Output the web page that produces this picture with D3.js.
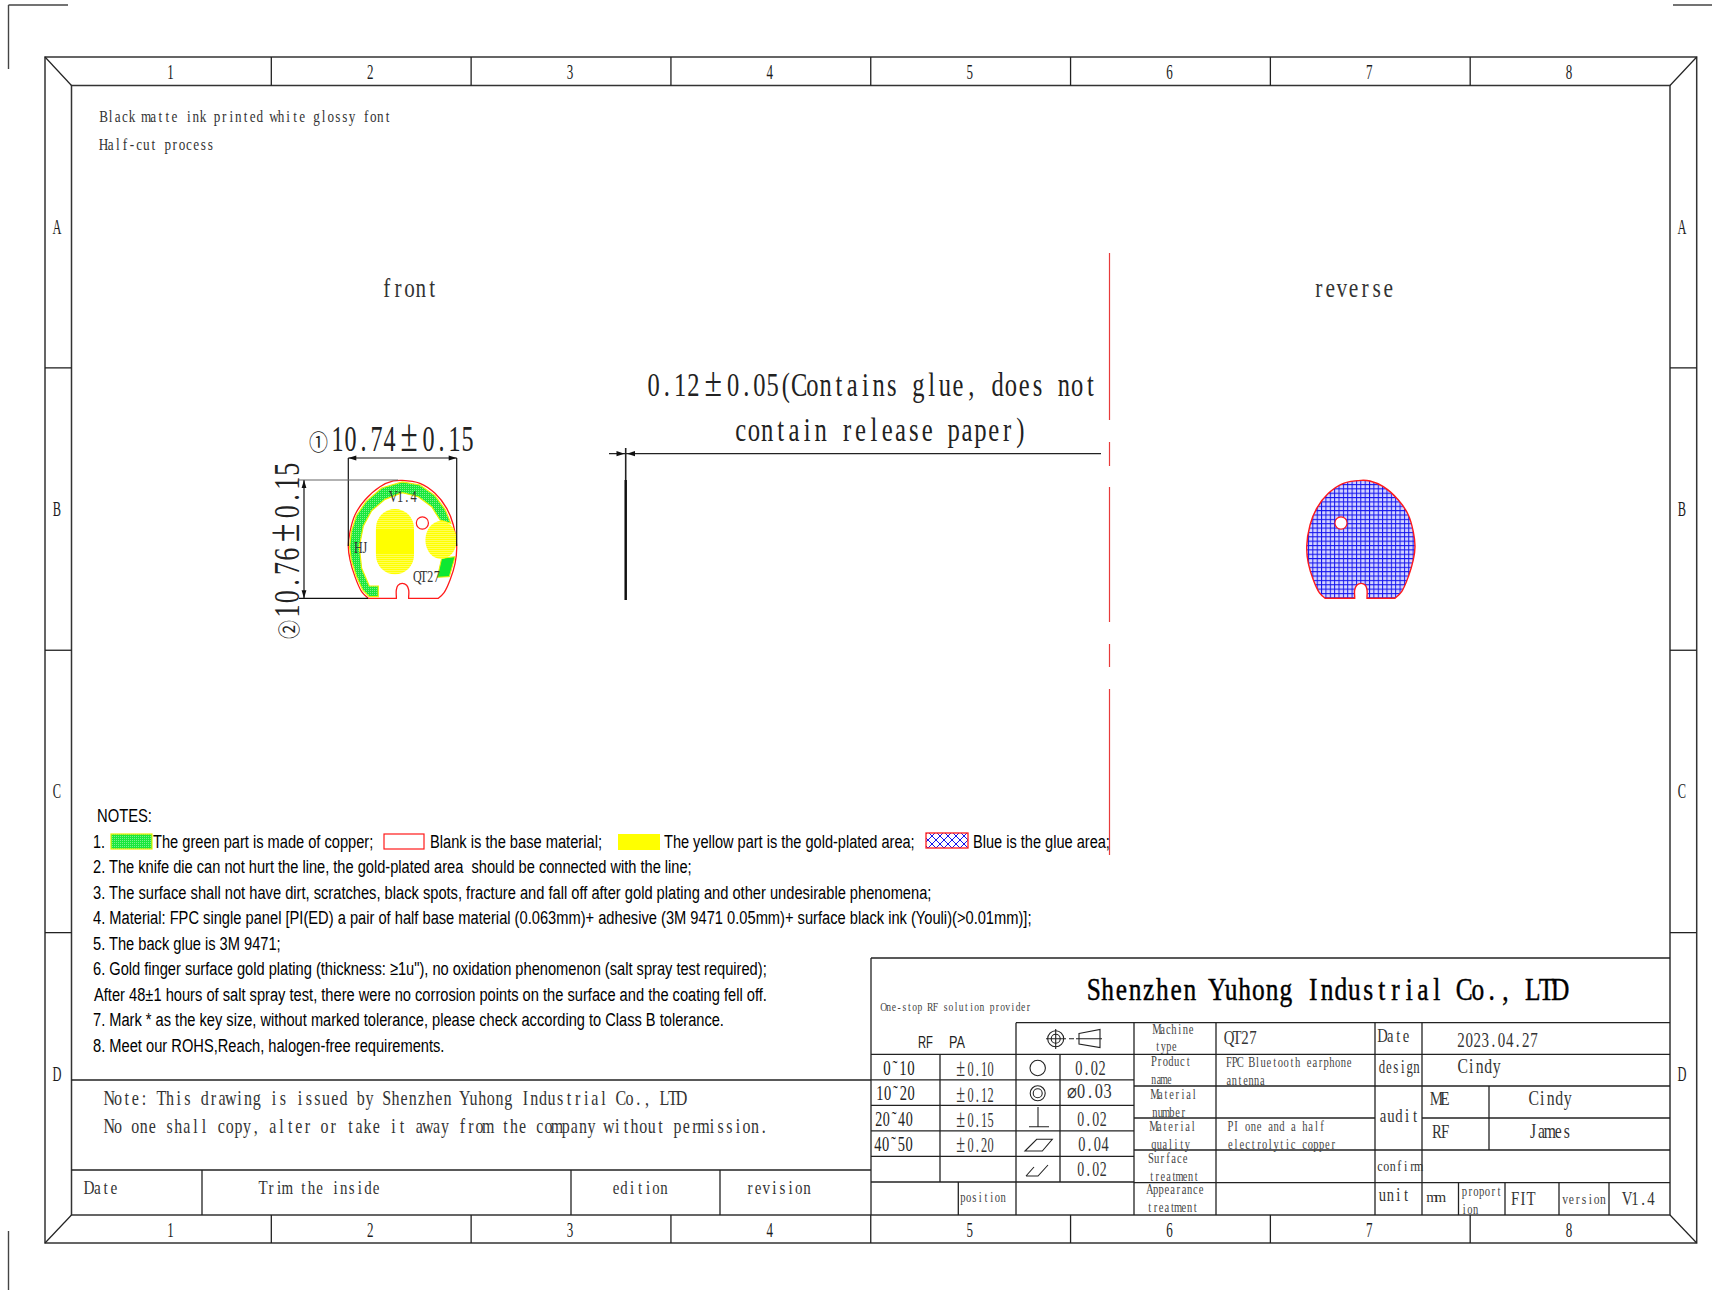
<!DOCTYPE html>
<html>
<head>
<meta charset="utf-8">
<style>
html,body{margin:0;padding:0;background:#fff}
svg{display:block}
</style>
<script src="https://cdnjs.cloudflare.com/ajax/libs/d3/7.8.5/d3.min.js"></script>
</head>
<body>
<svg id="c" width="1712" height="1290" viewBox="0 0 1712 1290"></svg>
<script>
// ---------- data ----------
const zoneColumns = ["1","2","3","4","5","6","7","8"];
const zoneRows = ["A","B","C","D"];
const headerNotes = ["Black matte ink printed white glossy font","Half-cut process"];
const viewNames = ["front","reverse"];
const widthDim = "10.74±0.15";
const heightDim = "10.76±0.15";
const thicknessLines = ["0.12±0.05(Contains glue, does not","contain release paper)"];
const notesTitle = "NOTES:";
const legendLabels = ["The green part is made of copper;","Blank is the base material;","The yellow part is the gold-plated area;","Blue is the glue area;"];
const noteLines = [
 "2. The knife die can not hurt the line, the gold-plated area  should be connected with the line;",
 "3. The surface shall not have dirt, scratches, black spots, fracture and fall off after gold plating and other undesirable phenomena;",
 "4. Material: FPC single panel [PI(ED) a pair of half base material (0.063mm)+ adhesive (3M 9471 0.05mm)+ surface black ink (Youli)(>0.01mm)];",
 "5. The back glue is 3M 9471;",
 "6. Gold finger surface gold plating (thickness: ≥1u\"), no oxidation phenomenon (salt spray test required);",
 "After 48±1 hours of salt spray test, there were no corrosion points on the surface and the coating fell off.",
 "7. Mark * as the key size, without marked tolerance, please check according to Class B tolerance.",
 "8. Meet our ROHS,Reach, halogen-free requirements."
];
const noteRightEdges = [692.5,931.7,1032,281,768,767,725,444.6];
const legalLines = ["Note: This drawing is issued by Shenzhen Yuhong Industrial Co., LTD","No one shall copy, alter or take it away from the company without permission."];
const revisionHeaders = ["Date","Trim the inside","edition","revision"];
const toleranceRanges = ["0˜10","10˜20","20˜40","40˜50"];
const toleranceValues = ["±0.10","±0.12","±0.15","±0.20"];
const geometricValues = ["0.02","⌀0.03","0.02","0.04","0.02"];
const companyName = "Shenzhen Yuhong Industrial Co., LTD";
const slogan = "One-stop RF solution provider";

// part outline, millimetres (10.74 x 10.76)
const arcX = [1.98,1.32,0.66,0.17,0,0.17,0.66,1.65,3.14,4.46,5.35,7.10,8.59,9.75,10.41,10.74,10.58,10.08,9.49,8.92];
const arcY = [0,0.61,1.97,3.49,4.70,6.06,7.58,8.94,10.15,10.67,10.73,10.46,9.55,8.18,6.67,4.70,3.18,1.67,0.52,0];
const notchX = [5.98,5.98,5.78,5.35,4.92,4.76,4.76];
const notchY = [0.15,0.76,1.18,1.36,1.18,0.76,0.15];
const copperX = [2.97,2.97,2.08,1.32,1.09,1.49,2.31,3.64,5.35,6.94,8.26,9.09,10.15,9.58,8.59,7.10,5.35,3.31,1.75,0.79,0.30,0.13,0.30,0.79,1.42,2.08];
const copperY = [0.15,1.12,1.12,2.73,4.70,6.58,7.97,9.00,9.61,9.24,8.33,7.12,6.82,8.09,9.34,10.31,10.58,10.03,8.79,7.49,6.06,4.70,3.49,2.03,0.76,0.15];
const copperTabX = [8.82,9.25,10.58,10.01];
const copperTabY = [1.91,3.64,3.79,1.97];

// ---------- helpers ----------
const svg = d3.select("#c");
const INK = "#1c1c1c", SERIF = "'Liberation Serif',serif", SANS = "'Liberation Sans',sans-serif", CJK="'Noto Sans CJK SC',sans-serif";
const defs = svg.append("defs");

function line(g,x1,y1,x2,y2,w=1.3,c="#222"){
  return g.append("line").attr("x1",x1).attr("y1",y1).attr("x2",x2).attr("y2",y2)
    .attr("stroke",c).attr("stroke-width",w);
}
// CAD text: serif strings sit on a fixed pitch (half-width cells, ± takes two),
// narrowed so each glyph fits its cell; other strings are scaled to their width.
function fit(g,str,x0,x1,base,size,fam=SERIF,col=INK,weight=400){
  if(fam!==SERIF){
    const t = g.append("text").attr("font-family",fam).attr("font-size",size).attr("font-weight",weight)
      .attr("fill",col).style("white-space","pre").text(str);
    const natural = t.node().getComputedTextLength();
    t.attr("transform",`translate(${x0},${base}) scale(${((x1-x0)/natural).toFixed(4)},1)`);
    return t;
  }
  const chars = Array.from(str);
  const cells = chars.map(c=>c==="±"?2:1);
  const pitch = (x1-x0)/d3.sum(cells);
  const sx = Math.min(1,pitch/(0.54*size));
  let at = 0;
  const xs = chars.map((c,i)=>{ const m=(at+cells[i]/2)*pitch; at+=cells[i]; return (m/sx).toFixed(2); });
  const t = g.append("text").attr("transform",`translate(${x0},${base}) scale(${sx.toFixed(4)},1)`)
    .attr("x",xs.join(" ")).attr("y",0).attr("text-anchor","middle")
    .attr("font-family",fam).attr("font-size",size).attr("font-weight",weight)
    .attr("fill",col).style("white-space","pre");
  str.split(/(±)/).filter(s=>s.length).forEach(s=>{
    const sp = t.append("tspan").text(s);
    if(s==="±") sp.attr("font-size",size*1.3);
  });
  return t;
}
function centered(g,str,cx,base,size,sx=0.62){
  g.append("text").attr("transform",`translate(${cx},${base}) scale(${sx},1)`)
   .attr("text-anchor","middle").attr("font-family",SERIF).attr("font-size",size).attr("fill",INK).text(str);
}

// ---------- frame ----------
const frame = svg.append("g");
const outer = {l:45,r:1696.7,t:57,b:1243}, inner = {l:71.5,r:1670,t:85.5,b:1215};
[[outer,1.5],[inner,1.5]].forEach(([b,w])=>{
  frame.append("rect").attr("x",b.l).attr("y",b.t).attr("width",b.r-b.l).attr("height",b.b-b.t)
    .attr("fill","none").attr("stroke","#333").attr("stroke-width",w);
});
[[outer.l,outer.t,inner.l,inner.t],[outer.r,outer.t,inner.r,inner.t],[outer.l,outer.b,inner.l,inner.b],[outer.r,outer.b,inner.r,inner.b]]
 .forEach(p=>line(frame,...p,1.2));
const colBand = d3.scaleBand().domain(zoneColumns).range([inner.l,inner.r]);
const rowBand = d3.scaleBand().domain(zoneRows).range([inner.t,inner.b]);
zoneColumns.forEach((c,i)=>{
  const x = colBand(c), mid = x+colBand.bandwidth()/2;
  if(i>0){ line(frame,x,outer.t,x,inner.t); line(frame,x,inner.b,x,outer.b); }
  centered(frame,c,mid-1,79,21);
  centered(frame,c,mid-1,1237,21);
});
zoneRows.forEach((r,i)=>{
  const y = rowBand(r), mid = y+rowBand.bandwidth()/2;
  if(i>0){ line(frame,outer.l,y,inner.l,y); line(frame,inner.r,y,outer.r,y); }
  centered(frame,r,57,mid+7,20);
  centered(frame,r,1682,mid+7,20);
});
// crop marks
[[8.5,5,68,5],[8.5,5,8.5,69],[1673,5,1712,5],[8.5,1231,8.5,1290]].forEach(p=>line(frame,...p,1.4,"#444"));

// ---------- header texts ----------
const head = svg.append("g");
fit(head,headerNotes[0],100,391,122,17,SERIF,"#333");
fit(head,headerNotes[1],100,214,150,17,SERIF,"#333");
fit(head,viewNames[0],381,438,297,27,SERIF,"#333");
fit(head,viewNames[1],1313,1394,297,27,SERIF,"#333");

// ---------- part views ----------
const yFront = d3.scaleLinear().domain([0,10.76]).range([598.3,480]);
const xFront = d3.scaleLinear().domain([0,10.74]).range([348.3,456.7]);
const xBack  = d3.scaleLinear().domain([0,10.74]).range([1415,1306.7]);
const smooth = d3.line().curve(d3.curveCatmullRom.alpha(0.5));
const straight = d3.line();
const poly = (xs,ys,sx,sy)=>xs.map((v,i)=>[sx(v),sy(ys[i])]);
function outlinePath(sx){
  const notch = poly(notchX,notchY,sx,yFront);
  const last = notch[notch.length-1], first = notch[0];
  return smooth(poly(arcX,arcY,sx,yFront))
    + "L" + [first[0],yFront(0)].join(",")
    + smooth(notch).replace("M","L")
    + "L" + [last[0],yFront(0)].join(",") + "Z";
}

// dimension arrows
function arrow(g,x,y,dir,len=8,half=2.4){
  const v = {l:[[x,y],[x+len,y-half],[x+len,y+half]], r:[[x,y],[x-len,y-half],[x-len,y+half]],
             u:[[x,y],[x-half,y+len],[x+half,y+len]], d:[[x,y],[x-half,y-len],[x+half,y-len]]}[dir];
  g.append("path").attr("d",straight(v)+"Z").attr("fill","#111");
}

// front
const front = svg.append("g");
const hatchY = defs.append("pattern").attr("id","ylw").attr("patternUnits","userSpaceOnUse").attr("width",2).attr("height",2);
hatchY.append("rect").attr("width",2).attr("height",2).attr("fill","#ffff00");
hatchY.append("rect").attr("width",2).attr("height",1).attr("fill","#ffff55");
const hatchG = defs.append("pattern").attr("id","grn").attr("patternUnits","userSpaceOnUse").attr("width",2).attr("height",2);
hatchG.append("rect").attr("width",2).attr("height",2).attr("fill","#19e83c");
hatchG.append("rect").attr("width",1).attr("height",1).attr("fill","#7cf08c");

front.append("path").attr("d",outlinePath(xFront)).attr("fill","#fff").attr("stroke","#ff1a1a").attr("stroke-width",1.3);
front.append("path").attr("d",straight(poly(copperX,copperY,xFront,yFront))+"Z").attr("fill","url(#grn)").attr("stroke","#eef000").attr("stroke-width",1.2);
front.append("path").attr("d",straight(poly(copperTabX,copperTabY,xFront,yFront))+"Z").attr("fill","#0ee832").attr("stroke","#eef000").attr("stroke-width",1);
// gold pads
const padW = xFront(6.51)-xFront(2.74), padH = yFront(2.18)-yFront(8.12);
front.append("rect").attr("x",xFront(2.74)).attr("y",yFront(8.12)).attr("width",padW).attr("height",padH)
  .attr("rx",padW/2).attr("ry",padW/2).attr("fill","url(#ylw)");
front.append("rect").attr("x",xFront(2.74)).attr("y",yFront(6.21)).attr("width",padW).attr("height",yFront(4.09)-yFront(6.21)).attr("fill","#ffff00");
front.append("ellipse").attr("cx",xFront(9.19)).attr("cy",yFront(5.30)).attr("rx",xFront(1.55)-xFront(0)).attr("ry",yFront(0)-yFront(1.73)).attr("fill","url(#ylw)");
front.append("ellipse").attr("cx",xFront(7.34)).attr("cy",yFront(6.85)).attr("rx",xFront(0.6)-xFront(0)).attr("ry",yFront(0)-yFront(0.56)).attr("fill","#fff").attr("stroke","#ff1a1a").attr("stroke-width",1.2);
fit(front,"V1.4",390,417,502,17,SERIF,"#333");
fit(front,"HJ",355,368,553,17,SERIF,"#333");
fit(front,"QT27",414,440,582,17,SERIF,"#333");

// front dimensions
line(front,xFront(0),458,xFront(10.74),458,1.2,"#111");
line(front,xFront(0),458,xFront(0),546,1.2,"#111");
line(front,xFront(10.74),458,xFront(10.74),546,1.2,"#111");
arrow(front,xFront(0),458,"l"); arrow(front,xFront(10.74),458,"r");
line(front,304,yFront(10.76),304,yFront(0),1.2,"#111");
line(front,299,yFront(10.76),398,yFront(10.76),1.2,"#666");
line(front,299,yFront(0),368,yFront(0),1.2,"#111");
arrow(front,304,yFront(10.76),"u"); arrow(front,304,yFront(0),"d");
fit(front,"①",309,328,450,22,CJK,"#222");
fit(front,widthDim,331,474,451,36,SERIF,"#222");
const rot = front.append("g").attr("transform","translate(299,620) rotate(-90)");
fit(rot,"②",-19,0,-2,22,CJK,"#222");
fit(rot,heightDim,2,158,0,36,SERIF,"#222");

// reverse
const back = svg.append("g");
const grid = defs.append("pattern").attr("id","glue").attr("patternUnits","userSpaceOnUse").attr("width",4.36).attr("height",4.36);
grid.append("rect").attr("width",4.36).attr("height",4.36).attr("fill","#d4d4ff");
grid.append("path").attr("d","M0 0V4.36M0 0H4.36").attr("stroke","#1414ee").attr("stroke-width",2);
back.append("path").attr("d",outlinePath(xBack)).attr("fill","url(#glue)").attr("stroke","#ff1a1a").attr("stroke-width",1.4);
back.append("ellipse").attr("cx",xBack(7.34)).attr("cy",yFront(6.85)).attr("rx",xFront(0.6)-xFront(0)).attr("ry",yFront(0)-yFront(0.56)).attr("fill","#fff").attr("stroke","#ff1a1a").attr("stroke-width",1.2);

// thickness
const thick = svg.append("g");
line(thick,609,453.7,1101,453.7,1.2,"#222");
line(thick,625.7,448,625.7,600,1.6,"#222");
line(thick,625.7,480,625.7,600,2.4,"#111");
arrow(thick,624.5,453.7,"r",8,2.6); arrow(thick,627,453.7,"l",8,2.6);
fit(thick,thicknessLines[0],647,1097,396,33,SERIF,"#222");
fit(thick,thicknessLines[1],734,1027,441,33,SERIF,"#222");

// red section line
[[253,420],[442,466],[487,622],[644,667],[689,855]].forEach(([a,b])=>line(thick,1109.5,a,1109.5,b,1.2,"#e83a3a"));

// ---------- notes ----------
const notes = svg.append("g");
const NS = 19;
fit(notes,notesTitle,97,152,822,NS,SANS,"#000");
const noteY = d3.scaleLinear().domain([0,1]).range([847.5,873.05]);
fit(notes,"1.",93,105,noteY(0),NS,SANS,"#000");
notes.append("rect").attr("x",111).attr("y",834).attr("width",41).attr("height",15).attr("fill","url(#grn)").attr("stroke","#e6f000").attr("stroke-width",1.2);
fit(notes,legendLabels[0],153,373.5,noteY(0),NS,SANS,"#000");
notes.append("rect").attr("x",384).attr("y",834).attr("width",40).attr("height",15).attr("fill","#fff").attr("stroke","#ff1a1a").attr("stroke-width",1.2);
fit(notes,legendLabels[1],430,602,noteY(0),NS,SANS,"#000");
notes.append("rect").attr("x",618).attr("y",834).attr("width",42).attr("height",16).attr("fill","#ffff00");
fit(notes,legendLabels[2],664,915,noteY(0),NS,SANS,"#000");
const cross = defs.append("pattern").attr("id","xh").attr("patternUnits","userSpaceOnUse").attr("width",8).attr("height",8);
cross.append("path").attr("d","M0 0L8 8M8 0L0 8").attr("stroke","#1414ee").attr("stroke-width",1);
notes.append("rect").attr("x",926).attr("y",833).attr("width",42).attr("height",15).attr("fill","url(#xh)").attr("stroke","#ff1a1a").attr("stroke-width",1.3);
fit(notes,legendLabels[3],973,1110,noteY(0),NS,SANS,"#000");
noteLines.forEach((t,i)=>{
  const x0 = t.startsWith("After") ? 94 : 93;
  fit(notes,t,x0,noteRightEdges[i],noteY(i+1),NS,SANS,"#000");
});

// ---------- legal / revision ----------
const legal = svg.append("g");
line(legal,inner.l,1080,871,1080);
line(legal,inner.l,1170,871,1170);
fit(legal,legalLines[0],105,686,1105,20.5,SERIF,"#333");
fit(legal,legalLines[1],105,768,1133,20.5,SERIF,"#333");
[202,571,720].forEach(x=>line(legal,x,1170,x,inner.b));
fit(legal,revisionHeaders[0],85,118,1194,19,SERIF,"#333");
fit(legal,revisionHeaders[1],259,380,1194,19,SERIF,"#333");
fit(legal,revisionHeaders[2],612,668,1194,19,SERIF,"#333");
fit(legal,revisionHeaders[3],746,811,1194,19,SERIF,"#333");

// ---------- title block ----------
const tb = svg.append("g");
const L=871,R=inner.r;
line(tb,L,958,R,958); line(tb,L,958,L,inner.b);
line(tb,1016,1022.7,R,1022.7);
line(tb,L,1054.3,R,1054.3);
const tolRows = d3.scaleBand().domain(d3.range(5)).range([1054.3,1182]);
d3.range(1,6).forEach(i=>line(tb,L,1054.3+i*tolRows.bandwidth(),1134,1054.3+i*tolRows.bandwidth()));
[[940,1054.3,1182],[958.3,1182,1215],[1016,1022.7,1215],[1060,1054.3,1182],[1134,1022.7,1215],[1216,1022.7,1215],[1375,1022.7,1215],[1422,1022.7,1215],[1489,1086,1150],[1458.5,1183,1215],[1505,1183,1215],[1559,1183,1215],[1609,1183,1215]]
  .forEach(([x,a,b])=>line(tb,x,a,x,b));
[1086,1150,1182.7].forEach(y=>line(tb,1134,y,R,y));
line(tb,1134,1118,1375,1118); line(tb,1422,1118,R,1118);

fit(tb,companyName,1087,1567,1000,32,SERIF,"#000",400).attr("stroke","#000").attr("stroke-width",0.45);
fit(tb,slogan,881,1031,1011,13.5,SERIF,"#444");
fit(tb,"RF",918,933,1048,16,SANS,"#222");
fit(tb,"PA",949,965,1048,16,SANS,"#222");

const rangeX = [[883,915],[876,915],[875,913],[874,913]], rangeBase=[1075,1100,1125.5,1151], tolBase=[1076,1102,1127,1152];
toleranceRanges.forEach((t,i)=>fit(tb,t,rangeX[i][0],rangeX[i][1],rangeBase[i],20,SERIF,"#222"));
toleranceValues.forEach((t,i)=>fit(tb,t,954,994,tolBase[i],20,SERIF,"#333"));
const geoX=[[1075,1106],[1068,1112],[1077,1107],[1078,1109],[1077,1107]], geoBase=[1075,1098,1125.5,1151,1176];
geometricValues.forEach((t,i)=>fit(tb,t,geoX[i][0],geoX[i][1],geoBase[i],20,SERIF,"#333"));

// geometric symbols
const sym = tb.append("g").attr("fill","none").attr("stroke","#222").attr("stroke-width",1.1);
sym.append("circle").attr("cx",1037.7).attr("cy",1068).attr("r",7.7);
sym.append("circle").attr("cx",1037.7).attr("cy",1093.3).attr("r",7.5);
sym.append("circle").attr("cx",1037.7).attr("cy",1093.3).attr("r",4.5);
sym.append("path").attr("d","M1029 1126.7H1049M1038 1107V1126.7");
sym.append("path").attr("d","M1025 1151L1036.7 1139.3H1052.3L1042.3 1151Z");
sym.append("path").attr("d","M1026 1176H1038L1048 1165M1026 1176L1034 1167");
sym.append("circle").attr("cx",1055.7).attr("cy",1038.7).attr("r",8);
sym.append("circle").attr("cx",1055.7).attr("cy",1038.7).attr("r",4.5);
sym.append("path").attr("d","M1046 1038.7H1066M1055.7 1029V1049M1069 1038.7H1074");
sym.append("path").attr("d","M1079 1033.5L1100 1029.5V1047.5L1079 1044ZM1076 1038.7H1102");

const S=SERIF,C="#444";
[["Machine",1154,1194,1034],["type",1155,1177,1051],["Product",1151,1191,1065.7],["name",1151,1172,1084],
 ["Material",1152,1197,1099],["number",1152,1186,1116.7],["Material",1151,1196,1130.7],["quality",1151,1190,1149],
 ["Surface",1148,1188,1163],["treatment",1149,1199,1181],["Appearance",1147,1204,1194],["treatment",1147,1198,1212]]
 .forEach(([t,a,b,y])=>fit(tb,t,a,b,y,14.5,S,C));
fit(tb,"QT27",1225,1257,1044,19,S,"#333");
fit(tb,"FPC Bluetooth earphone",1226,1352,1066.7,14,S,C);
fit(tb,"antenna",1226,1265,1085,14,S,C);
fit(tb,"PI one and a half",1227.5,1325,1131,14,S,C);
fit(tb,"electrolytic copper",1227.5,1336,1149,14,S,C);
fit(tb,"Date",1378.5,1410,1042,19,S,"#333");
fit(tb,"2023.04.27",1457,1538,1046.7,20,S,"#333");
fit(tb,"design",1378.5,1420,1073,18,S,"#333");
fit(tb,"Cindy",1458.5,1501,1073,21,S,"#333");
fit(tb,"audit",1379,1419,1122,19,S,"#333");
fit(tb,"ME",1432.5,1449,1105,19,S,"#333");
fit(tb,"Cindy",1529.4,1572,1105,21,S,"#333");
fit(tb,"RF",1433,1449,1138,19,S,"#333");
fit(tb,"James",1528.7,1571,1138,21,S,"#333");
fit(tb,"confirm",1376.6,1422,1170.7,15.5,S,"#333");
fit(tb,"unit",1378.5,1410,1201,19,S,"#333");
fit(tb,"mm",1428,1444.5,1202,15,S,"#333");
fit(tb,"proport",1461.5,1502,1196,14,S,C);
fit(tb,"ion",1461.5,1478.5,1214,14,S,C);
fit(tb,"FIT",1511,1535,1205,19,S,"#333");
fit(tb,"version",1562,1606,1204,15,S,C);
fit(tb,"V1.4",1623,1655,1205,19,S,"#333");
fit(tb,"position",960,1006,1202,14,S,C);
</script>
</body>
</html>
